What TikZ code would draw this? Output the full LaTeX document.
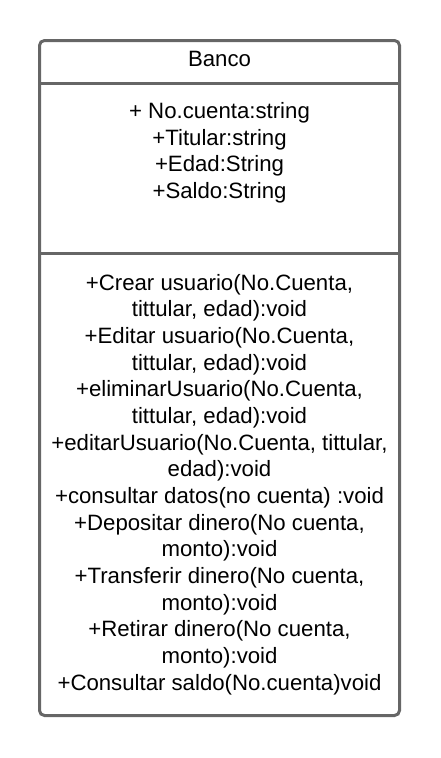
\documentclass[tikz,border=0pt]{standalone}
\usepackage{fontspec}
\setmainfont{Liberation Sans}
\definecolor{border}{RGB}{102,102,102}
\begin{document}
\begin{tikzpicture}[x=1pt,y=-1pt,
  txt/.style={anchor=base, inner sep=0pt, font=\fontsize{22.2}{26}\selectfont},
  frame/.style={draw=border, line width=3pt}]
\useasboundingbox (0,0) rectangle (440,758);
\draw[frame, rounded corners=5pt] (39.5,40.5) rectangle (399.5,715.5);
\coordinate (h1l) at (39.5,83.5); \coordinate (h1r) at (399.5,83.5);
\coordinate (h2l) at (39.5,253.5); \coordinate (h2r) at (399.5,253.5);
\draw[frame] (h1l) -- (h1r);
\draw[frame] (h2l) -- (h2r);
\node[txt] (title) at (219.5,66) {Banco};
\foreach \t [count=\i] in {{+ No.cuenta:string},{+Titular:string},{+Edad:String},{+Saldo:String}}
  \node[txt] (a\i) at (219.5,{118.5+(\i-1)*26.67}) {\t};
\foreach \t [count=\i] in {{+Crear usuario(No.Cuenta,},{tittular, edad):void},{+Editar usuario(No.Cuenta,},{tittular, edad):void},{+eliminarUsuario(No.Cuenta,},{tittular, edad):void},{+editarUsuario(No.Cuenta, tittular,},{edad):void},{+consultar datos(no cuenta) :void},{+Depositar dinero(No cuenta,},{monto):void},{+Transferir dinero(No cuenta,},{monto):void},{+Retirar dinero(No cuenta,},{monto):void},{+Consultar saldo(No.cuenta)void}}
  \node[txt] (m\i) at (219.5,{290+(\i-1)*26.67}) {\t};
\end{tikzpicture}
\end{document}
